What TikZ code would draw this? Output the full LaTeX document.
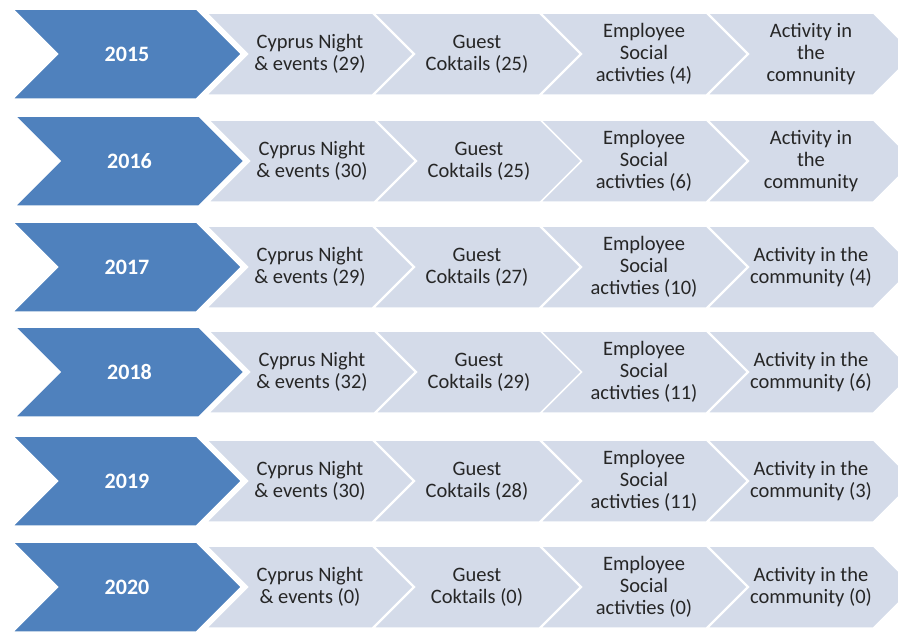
\documentclass[tikz,border=0pt]{standalone}
\usepackage{fontspec}
\setmainfont{Carlito}
\usetikzlibrary{shapes.symbols}
\definecolor{yearblue}{RGB}{79,129,189}
\definecolor{steplight}{RGB}{212,219,233}
\definecolor{steptext}{RGB}{38,38,38}
\tikzset{
  chevron/.style={signal, signal from=west, signal to=east, signal pointer angle=90,
    draw=white, line width=1.5pt, inner sep=0pt, align=center},
  yearbox/.style={chevron, fill=yearblue, minimum width=229pt, minimum height=90pt,
    text=white, font=\fontsize{22}{26}\selectfont\bfseries},
  stepbox/.style={chevron, fill=steplight, minimum width=207pt, minimum height=82pt,
    text=steptext, font=\fontsize{20.5}{22}\selectfont}
}
\begin{document}
\begin{tikzpicture}[x=1pt, y=-1pt]
\clip (0,0) rectangle (898,632);
% 2015
\node[stepbox] (P_2015_1) at (310,54) {Cyprus Night\\\& events (29)};
\node[stepbox] (P_2015_2) at (477,54) {Guest\\Coktails (25)};
\node[stepbox] (P_2015_3) at (644,54) {Employee\\Social\\activties (4)};
\node[stepbox] (P_2015_4) at (811,54) {Activity in\\the\\comnunity};
\node[yearbox] (P_2015_0) at (127,54) {2015};
% 2016
\node[stepbox] (P_2016_1) at (312,161) {Cyprus Night\\\& events (30)};
\node[stepbox] (P_2016_2) at (479,161) {Guest\\Coktails (25)};
\node[stepbox] (P_2016_3) at (644,161) {Employee\\Social\\activties (6)};
\node[stepbox] (P_2016_4) at (811,161) {Activity in\\the\\community};
\node[yearbox] (P_2016_0) at (129.5,161) {2016};
% 2017
\node[stepbox] (P_2017_1) at (310,267) {Cyprus Night\\\& events (29)};
\node[stepbox] (P_2017_2) at (477,267) {Guest\\Coktails (27)};
\node[stepbox] (P_2017_3) at (644,267) {Employee\\Social\\activties (10)};
\node[stepbox] (P_2017_4) at (811,267) {Activity in the\\community (4)};
\node[yearbox] (P_2017_0) at (127,267) {2017};
% 2018
\node[stepbox] (P_2018_1) at (312,372) {Cyprus Night\\\& events (32)};
\node[stepbox] (P_2018_2) at (479,372) {Guest\\Coktails (29)};
\node[stepbox] (P_2018_3) at (644,372) {Employee\\Social\\activties (11)};
\node[stepbox] (P_2018_4) at (811,372) {Activity in the\\community (6)};
\node[yearbox] (P_2018_0) at (129.5,372) {2018};
% 2019
\node[stepbox] (P_2019_1) at (310,481) {Cyprus Night\\\& events (30)};
\node[stepbox] (P_2019_2) at (477,481) {Guest\\Coktails (28)};
\node[stepbox] (P_2019_3) at (644,481) {Employee\\Social\\activties (11)};
\node[stepbox] (P_2019_4) at (811,481) {Activity in the\\community (3)};
\node[yearbox] (P_2019_0) at (127,481) {2019};
% 2020
\node[stepbox] (P_2020_1) at (310,587) {Cyprus Night\\\& events (0)};
\node[stepbox] (P_2020_2) at (477,587) {Guest\\Coktails (0)};
\node[stepbox] (P_2020_3) at (644,587) {Employee\\Social\\activties (0)};
\node[stepbox] (P_2020_4) at (811,587) {Activity in the\\community (0)};
\node[yearbox] (P_2020_0) at (127,587) {2020};
\end{tikzpicture}
\end{document}
